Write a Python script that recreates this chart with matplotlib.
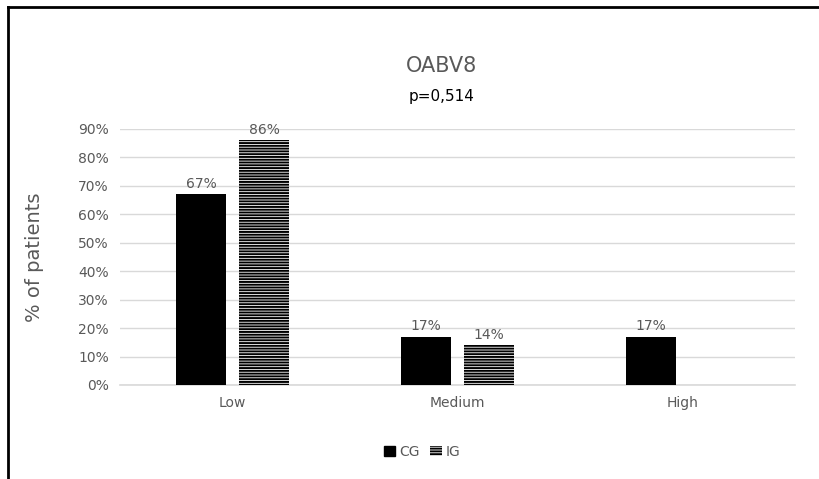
import matplotlib.pyplot as plt
import numpy as np
from matplotlib.lines import Line2D
from matplotlib.patches import Patch

# scores by level, share of patients
categories = ['Low', 'Medium', 'High']
cg_values = [0.67, 0.17, 0.17]
ig_values = [0.86, 0.14, 0.0]
ig_labels = ['86%', '14%', None]
yticks = np.arange(0, 1.0, 0.1)

plt.rcParams['hatch.linewidth'] = 1.4

fig = plt.figure(figsize=(8.2, 4.79), dpi=100)
ax = fig.add_axes([120 / 820, 1 - 385 / 479, 675 / 820, 256 / 479])

x = np.arange(len(categories))
w = 0.222
off = 0.14

bars_cg = ax.bar(x - off, cg_values, w, color='black', zorder=3)
bars_ig = ax.bar(x + off, ig_values, w, color='white', edgecolor='black',
                 hatch='------', linewidth=0, zorder=3)

# value labels above bars
for b, v in zip(bars_cg, cg_values):
    ax.text(b.get_x() + b.get_width() / 2, v + 0.012, f'{round(v * 100)}%',
            ha='center', va='bottom', fontsize=10, color='#595959')
for b, v, lab in zip(bars_ig, ig_values, ig_labels):
    if lab:
        ax.text(b.get_x() + b.get_width() / 2, v + 0.012, lab,
                ha='center', va='bottom', fontsize=10, color='#595959')

ax.set_xlim(-0.5, 2.5)
ax.set_ylim(0, 0.9)
ax.set_yticks(yticks)
ax.set_yticklabels([f'{round(t * 100)}%' for t in yticks])
ax.set_xticks(x)
ax.set_xticklabels(categories)
ax.tick_params(axis='both', length=0, labelsize=10, labelcolor='#595959', pad=8)
ax.grid(axis='y', color='#d9d9d9', linewidth=1, zorder=0)
for s in ax.spines.values():
    s.set_visible(False)
ax.axhline(0, color='#d9d9d9', linewidth=1.2, zorder=1, clip_on=False)

fig.text(35 / 820, 1 - 257 / 479, '% of patients', rotation=90, ha='center', va='center',
         fontsize=14, color='#595959')

fig.text(442 / 820, 1 - 66 / 479, 'OABV8', ha='center', va='center',
         fontsize=15, color='#595959')
fig.text(442 / 820, 1 - 96 / 479, 'p=0,514', ha='center', va='center',
         fontsize=11, color='black')

handles = [Patch(facecolor='black', edgecolor='black'),
           Patch(facecolor='white', edgecolor='black', hatch='------', linewidth=0)]
fig.legend(handles, ['CG', 'IG'], loc='center', bbox_to_anchor=(422 / 820, 1 - 452 / 479),
           ncol=2, frameon=False, fontsize=10, labelcolor='#595959',
           handlelength=0.8, handleheight=0.8, handletextpad=0.3, columnspacing=0.8)

# outer border (top and left edges)
fig.add_artist(Line2D([8 / 820, 1], [1 - 7 / 479, 1 - 7 / 479], color='black', linewidth=2,
                      transform=fig.transFigure))
fig.add_artist(Line2D([8 / 820, 8 / 820], [0, 1 - 7 / 479], color='black', linewidth=2,
                      transform=fig.transFigure))

fig.savefig('out.png', dpi=100)
